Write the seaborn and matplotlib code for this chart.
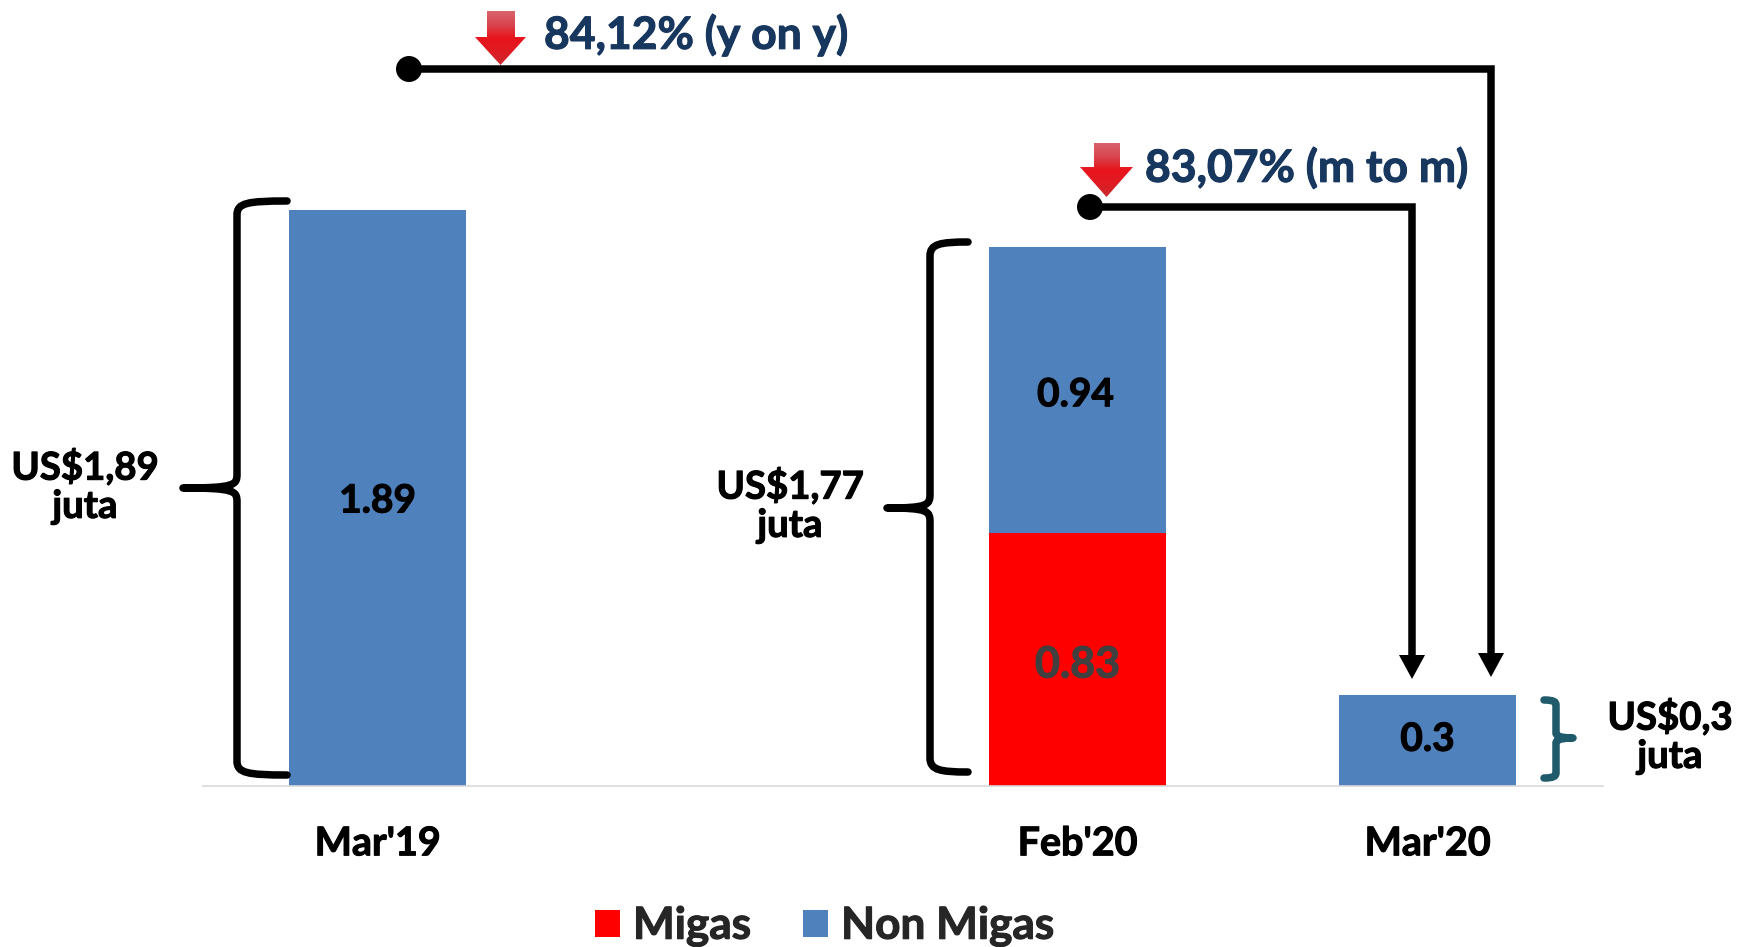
import numpy as np
import pandas as pd
import matplotlib
matplotlib.use("Agg")
import matplotlib.pyplot as plt
import matplotlib.patheffects as pe
import seaborn as sns
from matplotlib.path import Path
from matplotlib.patches import PathPatch, Polygon, Patch, Circle
from matplotlib.colors import LinearSegmentedColormap

# ---- data ----
categories = ["Mar'19", " ", "Feb'20", "Mar'20"]
nonmigas_cats = ["Mar'19", "Feb'20", "Mar'20"]
nonmigas_vals = [1.89, 0.94, 0.3]
migas_cats = ["Feb'20"]
migas_vals = [0.83]
nonmigas_labels = ["1.89", "0.94", "0.3"]
migas_labels = ["0.83"]
series_names = ["Migas", "Non Migas"]
total_texts = ["US$1,89\njuta", "US$1,77\njuta", "US$0,3\njuta"]
change_texts = ["84,12% (y on y)", "83,07% (m to m)"]

BLUE, RED, NAVY, TEAL = "#4F81BD", "#FF0000", "#17375E", "#1F5B6B"
W, H = 1748, 947
FONT = "Lato"
UNIT = 304.8

sns.set_theme(style="white")
plt.rcParams["font.family"] = [FONT, "DejaVu Sans"]
plt.rcParams["font.weight"] = "bold"


def thicken(t, w=0.8):
    t.set_path_effects([pe.withStroke(linewidth=w, foreground=t.get_color())])
    return t


fig = plt.figure(figsize=(W / 100, H / 100), dpi=100, facecolor="white")
# chart axes: baseline at 786 px, spans the axis line 202..1603 px
ax = fig.add_axes([203 / W, 1 - 786 / H, (1603 - 203) / W, 786 / H])

migas_bottom = [0.83 if c in migas_cats else 0 for c in nonmigas_cats]
sns.barplot(x=migas_cats, y=migas_vals, order=categories, color=RED, width=0.504,
            saturation=1, linewidth=0, ax=ax)
sns.barplot(x=nonmigas_cats, y=nonmigas_vals, order=categories, color=BLUE, width=0.504,
            saturation=1, linewidth=0, bottom=migas_bottom, ax=ax)
ax.set_xlim(-0.4985, 3.5015)
ax.set_ylim(0, 786 / UNIT)
ax.set_xlabel("")
ax.set_ylabel("")
ax.set_yticks([])
ax.patch.set_alpha(0)
for s in ["top", "left", "right"]:
    ax.spines[s].set_visible(False)
ax.spines["bottom"].set_color("#D9D9D9")
ax.spines["bottom"].set_linewidth(1.2)
ax.tick_params(axis="x", length=0, pad=29, labelsize=28.4, colors="black")
for t in ax.get_xticklabels():
    thicken(t)

# value labels (small pixel nudges account for the font's vertical metrics)
label_dx = [0, -2, 0]
label_dy = [3, 5, -1]
for c, v, b, t, dx, dy in zip(nonmigas_cats, nonmigas_vals, migas_bottom, nonmigas_labels,
                              label_dx, label_dy):
    thicken(ax.annotate(t, (categories.index(c), b + v / 2), xytext=(dx, -dy),
                        textcoords="offset pixels", ha="center", va="center",
                        fontsize=28, fontweight="bold", color="black"))
for c, v, t in zip(migas_cats, migas_vals, migas_labels):
    thicken(ax.annotate(t, (categories.index(c), v / 2), xytext=(0, -5),
                        textcoords="offset pixels", ha="center", va="center",
                        fontsize=31, fontweight="bold", color="#404040"))

# overlay in pixel coordinates for annotations
ov = fig.add_axes([0, 0, 1, 1])
ov.set_axis_off()
ov.patch.set_alpha(0)

LW = 5.4


def bracket(xe, xs, xt, yt, ym, yb, color="black", lw=LW, r=14, c=10):
    d = 1 if xe > xs else -1
    verts = [(xe, yt), (xs + d * c, yt), (xs, yt + 2), (xs, yt + r),
             (xs, ym - r), (xs, ym - 3), (xs - d * 2, ym), (xt, ym),
             (xs - d * 2, ym), (xs, ym + 3), (xs, ym + r),
             (xs, yb - r), (xs, yb - 2), (xs + d * c, yb), (xe, yb)]
    codes = [Path.MOVETO, Path.CURVE4, Path.CURVE4, Path.CURVE4,
             Path.LINETO, Path.CURVE4, Path.CURVE4, Path.CURVE4,
             Path.CURVE4, Path.CURVE4, Path.CURVE4,
             Path.LINETO, Path.CURVE4, Path.CURVE4, Path.CURVE4]
    ov.add_patch(PathPatch(Path(verts, codes), fill=False, ec=color, lw=lw,
                           capstyle="round", joinstyle="round"))


bracket(287, 237, 183, 201, 488, 775)
bracket(968, 930, 887, 242, 508, 772)
bracket(1544, 1556, 1573, 700, 738, 778, color=TEAL, r=5, c=2)

ts = 27.6
for (x, y), s in zip([(85, 486), (790, 505), (1670, 736)], total_texts):
    thicken(ov.text(x, y, s, ha="center", va="center", fontsize=ts, linespacing=1.15,
                    color="black"))

thicken(ov.text(544, 35, change_texts[0], ha="left", va="center", fontsize=32, color=NAVY))
thicken(ov.text(1145, 168, change_texts[1], ha="left", va="center", fontsize=32, color=NAVY))


def connector(x0, y0, xr, ytip):
    ov.plot([x0, xr, xr], [y0, y0, ytip - 22], color="black", lw=LW,
            solid_joinstyle="miter", solid_capstyle="butt", zorder=3)
    ov.add_patch(Circle((x0, y0), 13, fc="black", ec="none", zorder=3))
    ov.add_patch(Polygon([(xr - 13, ytip - 24), (xr + 13, ytip - 24), (xr, ytip)],
                         fc="black", ec="none", zorder=3))


connector(409, 69, 1491, 677)
connector(1090, 207, 1412, 679)

cmap = LinearSegmentedColormap.from_list(
    "down", ["#D9636B", "#D8454F", "#E8141C", "#E01B22", "#C92A2E"])


def red_arrow(x0, x1, hx0, hx1, top, base, tip):
    cx = (hx0 + hx1) / 2
    poly = Polygon([(x0, top), (x1, top), (x1, base), (hx1, base), (cx, tip),
                    (hx0, base), (x0, base)], transform=ov.transData, fc="none", ec="none")
    ov.add_patch(poly)
    im = ov.imshow(np.linspace(0, 1, 64).reshape(-1, 1), cmap=cmap, aspect="auto",
                   extent=(hx0, hx1, tip, top), zorder=4)
    im.set_clip_path(poly)


red_arrow(487, 515, 475, 526, 11, 37, 65)
red_arrow(1094, 1120, 1080, 1133, 143, 167, 197)

ov.set_xlim(0, W)
ov.set_ylim(H, 0)

# legend
handles = [Patch(fc=RED, ec="none"), Patch(fc=BLUE, ec="none")]
leg = ov.legend(handles, series_names, ncol=2, loc="center left",
                bbox_to_anchor=(595, 926), bbox_transform=ov.transData, frameon=False,
                handlelength=0.56, handleheight=0.56, handletextpad=0.3,
                columnspacing=1.18, borderpad=0, borderaxespad=0,
                prop={"family": FONT, "weight": "bold", "size": 31.8})
for t in leg.get_texts():
    thicken(t)

fig.savefig("out.png", dpi=100, facecolor="white")
